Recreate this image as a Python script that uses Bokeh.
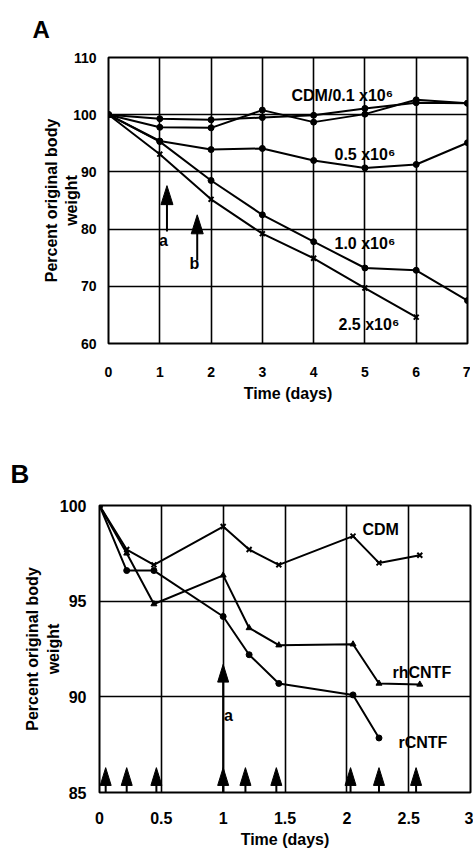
from bokeh.plotting import figure
from bokeh.layouts import column, row
from bokeh.models import Label, Range1d, FixedTicker, Title
from bokeh.embed import file_html
from bokeh.resources import INLINE

# ---------------- Panel A data ----------------
days_a = [0, 1, 2, 3, 4, 5, 6, 7]
cdm_a = [100, 99.3, 99.1, 99.5, 99.9, 101.1, 102.1, 102.0]
cells01_a = [100, 97.8, 97.7, 100.8, 98.7, 100.1, 102.6, 102.0]
cells05_a = [100, 95.4, 93.9, 94.1, 92.0, 90.7, 91.3, 95.1]
cells10_a = [100, 95.3, 88.5, 82.5, 77.8, 73.2, 72.8, 67.5]
days25_a = [0, 1, 2, 3, 4, 5, 6]
cells25_a = [100, 93.1, 85.2, 79.2, 74.9, 69.7, 64.6]
xticks_a = [0, 1, 2, 3, 4, 5, 6, 7]
yticks_a = [60, 70, 80, 90, 100, 110]
labels_a = ["CDM/0.1 x10\u2076", "0.5 x10\u2076", "1.0 x10\u2076", "2.5 x10\u2076"]
arrows_a_x = [1.14, 1.73]
arrows_a_tip = [87.6, 82.5]
arrows_a_base = [79.6, 74.5]
arrows_a_names = ["a", "b"]

# ---------------- Panel B data ----------------
days_b = [0, 0.22, 0.44, 1.0, 1.21, 1.45, 2.05, 2.26, 2.59]
cdm_b = [100, 97.7, 96.9, 98.9, 97.7, 96.9, 98.4, 97.0, 97.4]
rh_b = [100, 97.5, 94.85, 96.35, 93.6, 92.7, 92.75, 90.7, 90.65]
days_r_b = [0, 0.22, 0.44, 1.0, 1.21, 1.45, 2.05, 2.26]
r_b = [100, 96.6, 96.6, 94.2, 92.2, 90.7, 90.1, 87.85]
xticks_b = [0, 0.5, 1, 1.5, 2, 2.5, 3]
yticks_b = [85, 90, 95, 100]
inj_b = [0.05, 0.22, 0.46, 1.0, 1.18, 1.43, 2.03, 2.26, 2.56]
labels_b = ["CDM", "rhCNTF", "rCNTF"]

FONT = "Liberation Sans"
YLABEL = "Percent original body\nweight"
XLABEL = "Time (days)"

# frame geometry in page pixels (layout only)
A_L, A_R, A_T, A_B = 108, 467, 57, 343
B_L, B_R, B_T, B_B = 99, 470, 505, 795
WA, HA = 470, 406
WB, HB = 473, 850 - 406


def conv_a(px, py):
    return ((px - A_L) / ((A_R - A_L) / 7.0),
            110 - (py - A_T) / ((A_B - A_T) / 50.0))


def conv_b(px, py):
    return ((px - B_L) / ((B_R - B_L) / 3.0),
            100 - (py - B_T) / ((B_B - B_T) / 15.0))


def style(p, xt, yt, xg, yg, fs, xstand, ystand, ylab_stand, xlab_stand):
    p.outline_line_color = "black"
    p.outline_line_width = 2
    p.xaxis.ticker = FixedTicker(ticks=xt)
    p.yaxis.ticker = FixedTicker(ticks=yt)
    p.xgrid.ticker = FixedTicker(ticks=xg)
    p.ygrid.ticker = FixedTicker(ticks=yg)
    for g in (p.xgrid, p.ygrid):
        g.grid_line_color = "black"
        g.grid_line_width = 1.6
    for ax in (p.xaxis, p.yaxis):
        ax.axis_line_color = None
        ax.major_tick_line_color = None
        ax.minor_tick_line_color = None
        ax.major_label_text_font = FONT
        ax.major_label_text_font_style = "bold"
        ax.major_label_text_font_size = fs
        ax.major_label_text_color = "black"
        ax.axis_label_text_font = FONT
        ax.axis_label_text_font_style = "bold"
        ax.axis_label_text_font_size = "16px"
        ax.axis_label_text_color = "black"
    p.xaxis.axis_label = XLABEL
    p.yaxis.axis_label = YLABEL
    p.xaxis.major_label_standoff = xstand
    p.yaxis.major_label_standoff = ystand
    p.yaxis.axis_label_standoff = ylab_stand
    p.xaxis.axis_label_standoff = xlab_stand
    p.background_fill_color = "white"
    p.border_fill_color = "white"


def add_label(p, x, y, text, size, align="left"):
    p.add_layout(Label(x=x, y=y, text=text, text_font=FONT, text_font_style="bold",
                       text_font_size=size, text_align=align, text_baseline="middle",
                       text_color="black"))


def add_arrow(p, x, tip, base, hw, hl):
    p.segment(x0=[x], y0=[base], x1=[x], y1=[tip - hl * 0.5], line_color="black", line_width=2)
    p.patch(x=[x - hw / 2, x, x + hw / 2], y=[tip - hl, tip, tip - hl],
            fill_color="black", line_color="black", line_width=1)


def panel_title(p, text, size, offset, standoff, valign):
    t = Title(text=text, text_font=FONT, text_font_style="bold", text_font_size=size,
              align="left", offset=offset, standoff=standoff, text_color="black",
              vertical_align=valign)
    p.add_layout(t, "above")


# ================= Panel A =================
pa = figure(width=WA, height=HA, x_range=Range1d(0, 7), y_range=Range1d(60, 110),
            output_backend="svg", toolbar_location=None,
            min_border_left=A_L, min_border_right=WA - A_R,
            min_border_top=A_T, min_border_bottom=HA - A_B)
style(pa, xticks_a, yticks_a, [1, 2, 3, 4, 5, 6], [70, 80, 90, 100], "14px", 17, 6, -10, 5)
panel_title(pa, "A", "24px", -(A_L - 32), 28, "middle")

for ys in (cdm_a, cells01_a, cells05_a, cells10_a):
    pa.line(days_a, ys, line_color="black", line_width=2)
    pa.scatter(days_a, ys, size=6, marker="circle", color="black")
pa.line(days25_a, cells25_a, line_color="black", line_width=2)
pa.scatter(days25_a, cells25_a, size=7, marker="x", color="black", line_width=2)

pxa = (A_R - A_L) / 7.0
pya = (A_B - A_T) / 50.0
for x, t, b, n, lp in zip(arrows_a_x, arrows_a_tip, arrows_a_base, arrows_a_names,
                          [(163, 240), (194, 263)]):
    add_arrow(pa, x, t, b, 12 / pxa, 19 / pya)
    lx, ly = conv_a(*lp)
    add_label(pa, lx, ly, n, "16px", align="center")

for txt, pos in zip(labels_a, [(291, 95), (334, 154), (334, 243), (338, 324)]):
    lx, ly = conv_a(*pos)
    add_label(pa, lx, ly, txt, "16px")

# ================= Panel B =================
pb = figure(width=WB, height=HB, x_range=Range1d(0, 3), y_range=Range1d(85, 100),
            output_backend="svg", toolbar_location=None,
            min_border_left=B_L, min_border_right=WB - B_R,
            min_border_top=B_T - HA, min_border_bottom=HB - (B_B - HA))
style(pb, xticks_b, yticks_b, [0.5, 1, 1.5, 2, 2.5], [90, 95], "16px", 13, 7, -5, 4)
panel_title(pb, "B", "26px", -(B_L - 10), 34, "bottom")

pb.line(days_b, cdm_b, line_color="black", line_width=2)
pb.scatter(days_b, cdm_b, size=7, marker="x", color="black", line_width=2)
pb.line(days_b, rh_b, line_color="black", line_width=2)
pb.scatter(days_b, rh_b, size=6, marker="triangle", color="black")
pb.line(days_r_b, r_b, line_color="black", line_width=2)
pb.scatter(days_r_b, r_b, size=6, marker="circle", color="black")

pxb = (B_R - B_L) / 3.0
pyb = (B_B - B_T) / 15.0
for x in inj_b:
    add_arrow(pb, x, 86.3, 85, 11 / pxb, 18 / pyb)
add_arrow(pb, 1.0, 91.7, 85, 11 / pxb, 18 / pyb)
lx, ly = conv_b(228, 717)
add_label(pb, lx, ly, "a", "16px", align="center")

for txt, pos in zip(labels_b, [(362, 529), (392, 674), (398, 744)]):
    lx, ly = conv_b(*pos)
    add_label(pb, lx, ly, txt, "16px")

layout = column(row(pa), row(pb), spacing=0)
open("out.html", "w").write(file_html(layout, INLINE))
